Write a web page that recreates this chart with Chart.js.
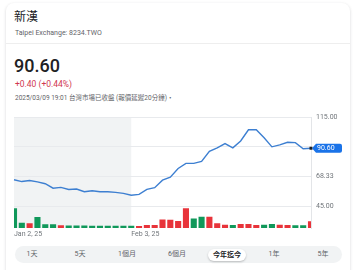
<!DOCTYPE html>
<html lang="zh-Hant">
<head>
    <meta charset="UTF-8">
    <title>新漢 8234.TWO</title>
    <script src="https://cdn.jsdelivr.net/npm/chart.js"></script>
    <style>
        body {
            margin: 0;
            width: 357px;
            height: 270px;
            overflow: hidden;
            background: #fff;
            position: relative;
            font-family: Roboto, 'Noto Sans CJK TC', sans-serif;
        }

        .card {
            position: absolute;
            left: 6px;
            top: 3px;
            width: 344px;
            height: 290px;
            border-radius: 8px;
            background: #fff;
            box-shadow: 0 1px 3px rgba(60, 64, 67, 0.22);
        }

        .divider {
            position: absolute;
            left: 0;
            right: 0;
            top: 40px;
            border-top: 1px solid #eeeeee;
        }

        .txt {
            position: absolute;
            white-space: nowrap;
        }

        #name { left: 14px; top: 10px; font-size: 12px; line-height: 14px; color: #202124; }
        #exch { left: 15px; top: 29px; font-size: 7px; line-height: 8px; color: #5f6368; }
        #price { left: 14px; top: 55px; font-size: 18px; line-height: 22px; font-weight: 500; color: #202124; }
        #change { left: 15px; top: 79px; font-size: 8.5px; line-height: 10px; color: #d0384f; }
        #stamp { left: 15px; top: 94px; font-size: 6.5px; line-height: 8px; color: #5f6368; }

        #chart-box {
            position: absolute;
            left: 0;
            top: 108px;
            width: 357px;
            height: 135px;
        }

        .range {
            position: absolute;
            left: 15px;
            top: 246px;
            width: 327px;
            height: 17px;
            border-radius: 9px;
            background: #f1f3f4;
        }

        .range span {
            position: absolute;
            top: 0;
            line-height: 17px;
            font-size: 7px;
            color: #5f6368;
            transform: translateX(-50%);
            white-space: nowrap;
        }

        .range .sel {
            top: 3px;
            height: 12px;
            line-height: 12px;
            padding: 0 5px;
            border-radius: 6px;
            background: #fff;
            color: #202124;
            font-weight: 700;
            box-shadow: 0 1px 2px rgba(60, 64, 67, 0.3);
        }
    </style>
</head>

<body>
    <div class="card"><div class="divider"></div></div>
    <div class="txt" id="name">新漢</div>
    <div class="txt" id="exch">Taipei Exchange: 8234.TWO</div>
    <div class="txt" id="price">90.60</div>
    <div class="txt" id="change">+0.40 (+0.44%)</div>
    <div class="txt" id="stamp">2025/03/09 19:01 台灣市場已收盤 (報價延遲20分鐘)・</div>

    <div id="chart-box"><canvas id="stockChart"></canvas></div>

    <div class="range">
        <span style="left:17px">1天</span>
        <span style="left:65px">5天</span>
        <span style="left:112px">1個月</span>
        <span style="left:162px">6個月</span>
        <span class="sel" style="left:212px">今年迄今</span>
        <span style="left:259px">1年</span>
        <span style="left:308px">5年</span>
    </div>

    <script>
        // trading days, year to date
        var dates = [
            'Jan 2, 25', 'Jan 3, 25', 'Jan 6, 25', 'Jan 7, 25', 'Jan 8, 25', 'Jan 9, 25', 'Jan 10, 25',
            'Jan 13, 25', 'Jan 14, 25', 'Jan 15, 25', 'Jan 16, 25', 'Jan 17, 25', 'Jan 20, 25', 'Jan 21, 25', 'Jan 22, 25',
            'Feb 3, 25', 'Feb 4, 25', 'Feb 5, 25', 'Feb 6, 25', 'Feb 7, 25', 'Feb 10, 25', 'Feb 11, 25', 'Feb 12, 25',
            'Feb 13, 25', 'Feb 14, 25', 'Feb 17, 25', 'Feb 18, 25', 'Feb 19, 25', 'Feb 20, 25', 'Feb 21, 25',
            'Feb 24, 25', 'Feb 25, 25', 'Feb 26, 25', 'Feb 27, 25',
            'Mar 3, 25', 'Mar 4, 25', 'Mar 5, 25', 'Mar 6, 25', 'Mar 7, 25'
        ];
        var closes = [
            65.8, 64.4, 65.2, 64.2, 62.7, 59.2, 59.8, 58.2, 58.5, 56.4, 57.2, 56.4, 56.4, 55.9, 55.1,
            53.6, 54.3, 58.3, 59.6, 65.5, 67.8, 74.7, 78.7, 78.7, 80.2, 88.2, 90.9, 94.2, 90.9, 96.3,
            105.1, 105.1, 98.9, 91.7, 93.2, 95.3, 95.0, 90.2, 90.6
        ];
        // volume in lots
        var volumes = [
            2000, 530, 470, 1100, 370, 370, 270, 250, 250, 250, 240, 230, 230, 230, 230,
            230, 200, 300, 300, 870, 830, 700, 2000, 970, 1130, 1130, 470, 330, 300, 400,
            400, 300, 330, 400, 330, 300, 270, 270, 670
        ];
        // 'u' = red bar, 'd' = green bar
        var volDir = [
            'd', 'd', 'u', 'd', 'd', 'd', 'u', 'd', 'd', 'd', 'd', 'd', 'd', 'd', 'd',
            'd', 'u', 'u', 'u', 'u', 'u', 'u', 'u', 'd', 'd', 'u', 'u', 'u', 'd', 'u',
            'u', 'u', 'd', 'd', 'u', 'u', 'd', 'd', 'u'
        ];
        var priceTicks = [45, 68.33, 91.67, 115];
        var shownDates = ['Jan 2, 25', 'Feb 3, 25'];
        var lastClose = 90.60;

        var upColor = '#e8333a';
        var downColor = '#10985a';

        // grey band behind the January part
        var shadePlugin = {
            id: 'shade',
            beforeDraw: function (chart) {
                var area = chart.chartArea;
                var x2 = chart.scales.x.getPixelForValue(15);
                var ctx = chart.ctx;
                ctx.save();
                ctx.fillStyle = '#f1f3f4';
                ctx.fillRect(area.left, area.top, x2 - area.left, area.bottom - area.top);
                ctx.restore();
            }
        };

        // current price tag on the right axis
        var tagPlugin = {
            id: 'tag',
            afterDraw: function (chart) {
                var ctx = chart.ctx;
                var x = chart.chartArea.right;
                var y = chart.scales.y.getPixelForValue(lastClose);
                ctx.save();
                ctx.fillStyle = '#202124';
                ctx.fillRect(x - 1.5, y - 1.5, 3, 3);
                ctx.fillStyle = '#1a73e8';
                ctx.beginPath();
                ctx.moveTo(x + 1, y);
                ctx.lineTo(x + 5, y - 4.5);
                ctx.lineTo(x + 29, y - 4.5);
                ctx.quadraticCurveTo(x + 31, y - 4.5, x + 31, y - 2.5);
                ctx.lineTo(x + 31, y + 2.5);
                ctx.quadraticCurveTo(x + 31, y + 4.5, x + 29, y + 4.5);
                ctx.lineTo(x + 5, y + 4.5);
                ctx.closePath();
                ctx.fill();
                ctx.fillStyle = '#fff';
                ctx.font = '7px Roboto';
                ctx.textBaseline = 'middle';
                ctx.fillText(lastClose.toFixed(2), x + 6, y + 0.5);
                ctx.restore();
            }
        };

        new Chart(document.getElementById('stockChart'), {
            type: 'line',
            data: {
                labels: dates,
                datasets: [
                    {
                        type: 'line',
                        data: closes,
                        yAxisID: 'y',
                        borderColor: '#3d7fd1',
                        borderWidth: 1.4,
                        pointRadius: 0,
                        tension: 0,
                        order: 0
                    },
                    {
                        type: 'bar',
                        data: volumes,
                        yAxisID: 'yVol',
                        backgroundColor: volDir.map(function (d) { return d === 'u' ? upColor : downColor; }),
                        barPercentage: 0.78,
                        categoryPercentage: 1,
                        order: 1
                    }
                ]
            },
            options: {
                responsive: true,
                maintainAspectRatio: false,
                animation: false,
                layout: { padding: { left: 14, top: 8, right: 0, bottom: 0 } },
                plugins: {
                    legend: { display: false },
                    tooltip: { enabled: false }
                },
                scales: {
                    x: {
                        type: 'category',
                        offset: false,
                        grid: { display: false, offset: false, drawTicks: false },
                        border: { display: false },
                        ticks: {
                            autoSkip: false,
                            maxRotation: 0,
                            align: 'start',
                            padding: 2,
                            color: '#70757a',
                            font: { size: 7, family: 'Roboto' },
                            callback: function (v, i) {
                                var d = dates[i];
                                return shownDates.indexOf(d) >= 0 ? d : '';
                            }
                        },
                        afterFit: function (scale) { scale.height = 15; }
                    },
                    y: {
                        position: 'right',
                        min: 27.89,
                        max: 115,
                        afterBuildTicks: function (scale) {
                            scale.ticks = priceTicks.map(function (v) { return { value: v }; });
                        },
                        grid: { color: '#e8eaed', drawTicks: false },
                        border: { display: true, color: '#e3e5e8' },
                        ticks: {
                            padding: 5,
                            color: '#70757a',
                            font: { size: 7, family: 'Roboto' },
                            callback: function (v) { return v === 91.67 ? '' : v.toFixed(2); }
                        },
                        afterFit: function (scale) { scale.width = 46; }
                    },
                    yVol: {
                        display: false,
                        min: 0,
                        max: 11200
                    }
                }
            },
            plugins: [shadePlugin, tagPlugin]
        });
    </script>
</body>

</html>
